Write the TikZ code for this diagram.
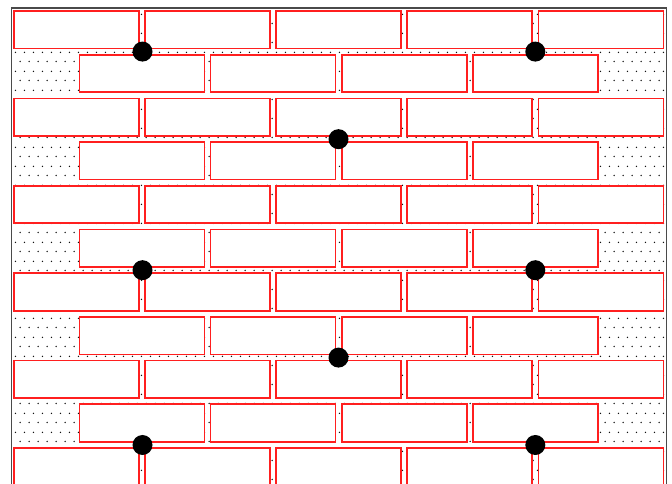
\documentclass[tikz,border=0pt]{standalone}
\usepackage{xcolor}
\usepackage{tikz}
\usetikzlibrary{patterns}
\definecolor{WallRed}{HTML}{FF1F1F}
\definecolor{WallFrame}{HTML}{4A4A4A}
\definecolor{WallDot}{HTML}{111111}
\pgfdeclarepatternformonly{mortar dots}{\pgfpointorigin}{\pgfqpoint{6.6pt}{13.2pt}}{\pgfqpoint{6.6pt}{13.2pt}}{%
  \pgfpathcircle{\pgfqpoint{1.65pt}{3.3pt}}{0.6pt}
  \pgfpathcircle{\pgfqpoint{4.95pt}{9.9pt}}{0.6pt}
  \pgfusepath{fill}}

\begin{document}
\begin{tikzpicture}[x=0.25mm,y=-0.25mm]
\useasboundingbox (0,0) rectangle (672,484);
\clip (0,0) rectangle (672,484);
% wall face and frame
\fill[pattern=mortar dots,pattern color=WallDot] (12,8) rectangle (666,500);
\draw[WallFrame,line width=1.3pt] (11.5,500)--(11.5,8)--(666.5,8)--(666.5,500);
% full courses
\foreach \r in {0,2,...,10}
  \foreach \c in {0,...,4}
    \draw[WallRed,fill=white,line width=1.2pt] ({14+131.1*\c},{11+43.7*\r}) rectangle ++(125,37.5);
% half-bond courses
\foreach \r in {1,3,...,9}
  \foreach \c in {0,...,3}
    \draw[WallRed,fill=white,line width=1.2pt] ({79.5+131.1*\c},{11+43.7*\r}) rectangle ++(125,37.5);
% ties
\foreach \p in {(142.5,51.6),(535.3,51.6),(338.5,139.2),(142.5,270.2),(535.3,270.2),(338.5,357.6),(142.5,445),(535.3,445)}
  \fill[black] \p circle[radius=10];
\end{tikzpicture}
\end{document}
